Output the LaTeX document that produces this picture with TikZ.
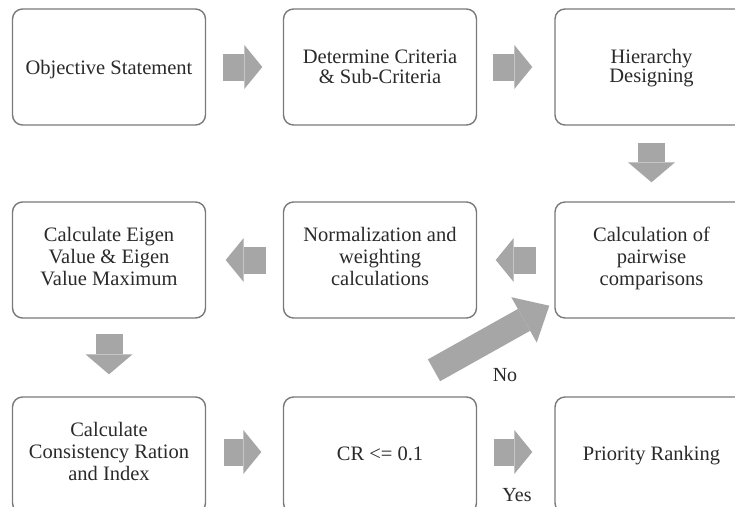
\documentclass[tikz,border=0pt]{standalone}
\usepackage{fontspec}
\setmainfont{Liberation Serif}
\usetikzlibrary{arrows.meta}
\definecolor{boxline}{HTML}{7A7A7A}
\definecolor{arrowfill}{HTML}{A6A6A6}
\definecolor{txt}{HTML}{2A2A2A}
% #1 = raise of the first baseline above the box centre, #2 = baselineskip, #3 = lines
\newcommand{\boxtxt}[3]{\fontsize{20.5}{#2}\selectfont\raisebox{#1}[0pt][0pt]{\begin{tabular}[t]{@{}c@{}}#3\end{tabular}}}
\begin{document}
\begin{tikzpicture}[x=1pt,y=-1pt,
  box/.style={draw=boxline, line width=1.4pt, rounded corners=10pt, fill=white,
    minimum width=193pt, minimum height=116pt, inner sep=0pt,
    text=txt},
  blk/.style={draw=arrowfill, line width=27pt,
    -{Triangle[length=18pt,width=44pt,line width=0pt]}},
  vblk/.style={draw=arrowfill, line width=27pt,
    -{Triangle[length=20pt,width=47pt,line width=0pt]}},
  dblk/.style={draw=arrowfill, line width=25pt,
    -{Triangle[length=29pt,width=52pt,line width=0pt]}},
  lbl/.style={text=txt, font=\fontsize{20}{20}\selectfont, inner sep=0pt}]
\clip (0,0) rectangle (735,506);
\fill[white] (0,0) rectangle (735,506);

\node[box] (b1) at (109,67) {\boxtxt{-7.3pt}{21.7pt}{Objective Statement}};
\node[box] (b2) at (380,67) {\boxtxt{3.7pt}{18.4pt}{Determine Criteria\\\& Sub-Criteria}};
\node[box] (b3) at (651.5,67) {\boxtxt{3.7pt}{18.4pt}{Hierarchy\\Designing}};
\node[box] (b4) at (109,260) {\boxtxt{18.3pt}{21.7pt}{Calculate Eigen\\Value \& Eigen\\Value Maximum}};
\node[box] (b5) at (380,260) {\boxtxt{18.3pt}{21.7pt}{Normalization and\\weighting\\calculations}};
\node[box] (b6) at (651.5,260) {\boxtxt{18.3pt}{21.7pt}{Calculation of\\pairwise\\comparisons}};
\node[box] (b7) at (109,455) {\boxtxt{18.3pt}{21.7pt}{Calculate\\Consistency Ration\\and Index}};
\node[box] (b8) at (380,455) {\boxtxt{-5pt}{21.7pt}{CR <= 0.1}};
\node[box] (b9) at (651.5,455) {\boxtxt{-5pt}{21.7pt}{Priority Ranking}};

\draw[blk] ([shift={(16.5,0)}]b1.east) -- ([shift={(-20.5,0)}]b2.west);
\draw[blk] ([shift={(15.5,0)}]b2.east) -- ([shift={(-22,0)}]b3.west);
\draw[vblk] ([shift={(0,17)}]b3.south) -- ([shift={(0,-19)}]b6.north);
\draw[blk] ([shift={(-18,0)}]b6.west) -- ([shift={(18.5,0)}]b5.east);
\draw[blk] ([shift={(-16.5,0)}]b5.west) -- ([shift={(19.5,0)}]b4.east);
\draw[vblk] ([shift={(0,15)}]b4.south) -- ([shift={(0,-22)}]b7.north);
\draw[blk] ([shift={(17.5,-3)}]b7.east) -- ([shift={(-21.5,-3)}]b8.west);
\draw[blk] ([shift={(16.5,-3)}]b8.east) -- ([shift={(-22,-3)}]b9.west);
\draw[dblk] ([shift={(54,-26)}]b8.north) -- ([shift={(-5,-13)}]b6.south west);

\node[lbl] (no) at (505,375) {No};
\node[lbl] (yes) at (517,495) {Yes};
\end{tikzpicture}
\end{document}
